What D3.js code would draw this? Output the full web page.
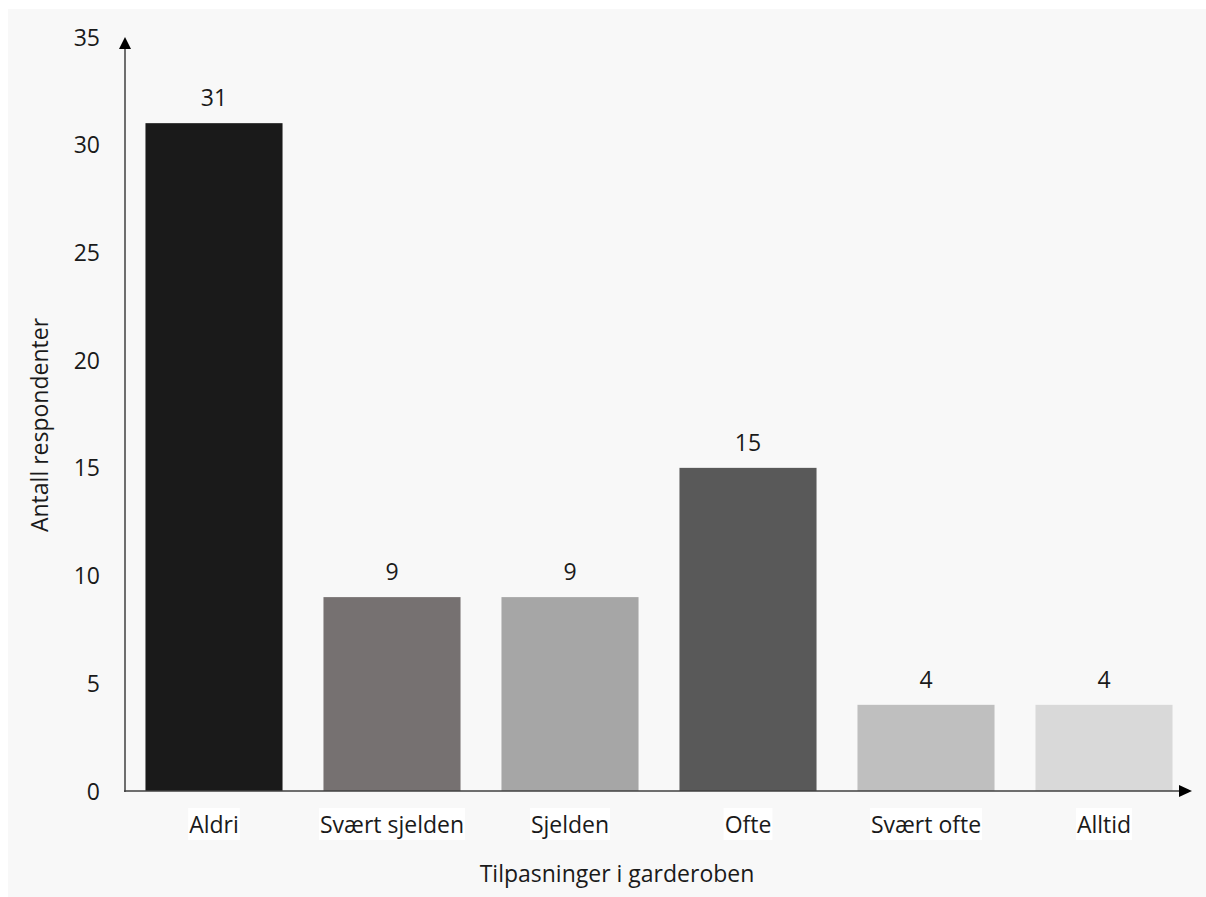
<!DOCTYPE html>
<html>
<head>
<meta charset="utf-8">
<script src="https://cdn.jsdelivr.net/npm/d3@7"></script>
<style>
  html, body { margin: 0; padding: 0; background: #ffffff; }
  svg { display: block; }
  text { font-family: "Open Sans", "Noto Sans", sans-serif; fill: #1a1a1a; }
</style>
</head>
<body>
<svg id="chart" width="1206" height="897"></svg>
<script>
const categories = ["Aldri", "Svært sjelden", "Sjelden", "Ofte", "Svært ofte", "Alltid"];
const values = [31, 9, 9, 15, 4, 4];
const barColors = ["#1a1a1a", "#767171", "#a6a6a6", "#595959", "#bfbfbf", "#d9d9d9"];
const yTicks = [0, 5, 10, 15, 20, 25, 30, 35];
const xTitle = "Tilpasninger i garderoben";
const yTitle = "Antall respondenter";

const FS = 23;
const svg = d3.select("#chart");
const W = 1206, H = 897;

// panel background
svg.append("rect").attr("x", 8).attr("y", 9).attr("width", W - 8).attr("height", H - 9).attr("fill", "#f8f8f8");

const x = d3.scaleBand().domain(categories).range([125, 1193]).paddingInner(0.23).paddingOuter(0.115);
const y = d3.scaleLinear().domain([0, 35]).range([791, 37]);

// bars
svg.append("g").selectAll("rect").data(categories).join("rect")
  .attr("x", d => x(d))
  .attr("y", (d, i) => y(values[i]))
  .attr("width", x.bandwidth())
  .attr("height", (d, i) => y(0) - y(values[i]))
  .attr("fill", (d, i) => barColors[i]);

// value labels
svg.append("g").selectAll("text").data(categories).join("text")
  .attr("x", d => x(d) + x.bandwidth() / 2)
  .attr("y", (d, i) => y(values[i]) - 17)
  .attr("text-anchor", "middle")
  .attr("font-size", FS)
  .text((d, i) => values[i]);

// y axis (labels only)
const yAxis = d3.axisLeft(y).tickValues(yTicks).tickSize(0).tickPadding(0).tickFormat(d3.format("d"));
const gy = svg.append("g").attr("transform", "translate(100,0)").call(yAxis);
gy.select(".domain").remove();
gy.selectAll("text").attr("font-size", FS).attr("font-family", "Open Sans").attr("fill", "#1a1a1a").attr("dy", "0.35em");

// x axis labels with white background
const xAxis = d3.axisBottom(x).tickSize(0).tickPadding(0);
const gx = svg.append("g").attr("transform", "translate(0,791)").call(xAxis);
gx.select(".domain").remove();
gx.selectAll(".tick text").attr("font-size", FS).attr("font-family", "Open Sans").attr("fill", "#1a1a1a").attr("dy", 0).attr("y", 42);
gx.selectAll(".tick").each(function() {
  const t = d3.select(this).select("text");
  const bb = t.node().getBBox();
  d3.select(this).insert("rect", "text")
    .attr("x", bb.x - 1).attr("y", bb.y)
    .attr("width", bb.width + 2).attr("height", bb.height)
    .attr("fill", "#ffffff");
});

// axis lines with arrows
const axisColor = "#404040";
svg.append("line").attr("x1", 125).attr("x2", 125).attr("y1", 792).attr("y2", y(35) + 10)
  .attr("stroke", axisColor).attr("stroke-width", 1.5);
svg.append("path").attr("d", `M125,${y(35)} L119,${y(35) + 12} L131,${y(35) + 12} Z`).attr("fill", "#000");
svg.append("line").attr("x1", 124).attr("x2", 1182).attr("y1", 791).attr("y2", 791)
  .attr("stroke", axisColor).attr("stroke-width", 1.5);
svg.append("path").attr("d", "M1192,791 L1179,785 L1179,797 Z").attr("fill", "#000");

// titles
svg.append("text").attr("x", 617).attr("y", 882).attr("text-anchor", "middle").attr("font-size", FS).text(xTitle);
svg.append("text").attr("transform", "translate(48,425) rotate(-90)").attr("text-anchor", "middle").attr("font-size", FS).text(yTitle);
</script>
</body>
</html>
